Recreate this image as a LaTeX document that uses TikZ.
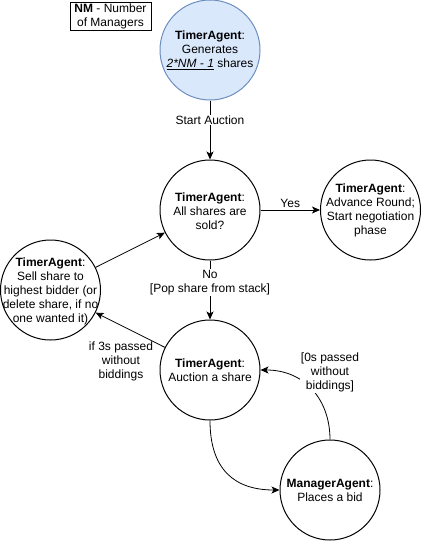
\documentclass[tikz,border=0pt]{standalone}
\usepackage{fontspec}
\setmainfont{Liberation Sans}
\usetikzlibrary{arrows.meta}
\definecolor{topfill}{HTML}{DAE8FC}
\definecolor{topdraw}{HTML}{6C8EBF}
\begin{document}
\begin{tikzpicture}[x=1pt,y=-1pt,
  st/.style={circle,draw=black,line width=1pt,minimum size=100pt,inner sep=0pt},
  txt/.style={align=center,font=\fontsize{12}{14}\selectfont,inner sep=0pt},
  lbl/.style={align=center,font=\fontsize{12}{14}\selectfont,inner sep=1pt},
  arr/.style={draw=black,line width=0.8pt,-{Stealth[length=8pt,width=7pt,inset=2pt]}}
]
\useasboundingbox (0,0) rectangle (421,541);
% legend
\node[draw=black,line width=1pt,minimum width=81pt,minimum height=28pt,inner sep=0pt,txt] (nm) at (110.5,16) {\textbf{NM} - Number\\of Managers};
% circles
\node[st,fill=topfill,draw=topdraw] (top) at (210,50) {};
\node[txt] (toptxt) at (top) {\textbf{TimerAgent}:\\Generates\\\underline{\textit{2*NM - 1}} shares};
\node[st] (q) at (210,210) {};
\node[txt] (qtxt) at (210,211) {\textbf{TimerAgent}:\\All shares are\\sold?};
\node[st] (r) at (370.5,210) {};
\node[txt] (rtxt) at (370.5,210) {\textbf{TimerAgent}:\\Advance Round;\\Start negotiation\\phase};
\node[st] (l) at (50.5,290) {};
\node[txt] (ltxt) at (50.5,291) {\textbf{TimerAgent}:\\Sell share to\\highest bidder (or\\delete share, if no\\one wanted it)};
\node[st] (a) at (210,370) {};
\node[txt] (atxt) at (a) {\textbf{TimerAgent}:\\Auction a share};
\node[st] (m) at (330,490) {};
\node[txt] (mtxt) at (m) {\textbf{ManagerAgent}:\\Places a bid};
% connectors
\draw[arr] (top) -- node[lbl,fill=white,pos=0.33] (l1) {Start Auction} (q);
\draw[arr] (q) -- node[lbl,above=1pt] (l2) {Yes} (r);
\draw[arr] (q) -- node[lbl,fill=white,pos=0.37] (l3) {No\\{[Pop share from stack]}} (a);
\draw[arr] (l) -- (q);
\draw[arr] (a) -- (l);
\node[lbl] (l4) at (121,361) {if 3s passed\\without\\biddings};
\draw[arr] (a.south) .. controls (210,470) and (235,490) .. (m.west);
\draw[arr] (m.north) .. controls (330,400) and (305,370) .. (a.east);
\node[lbl,fill=white] (l5) at (330,372) {{[0s passed}\\without\\biddings]};
\end{tikzpicture}
\end{document}
